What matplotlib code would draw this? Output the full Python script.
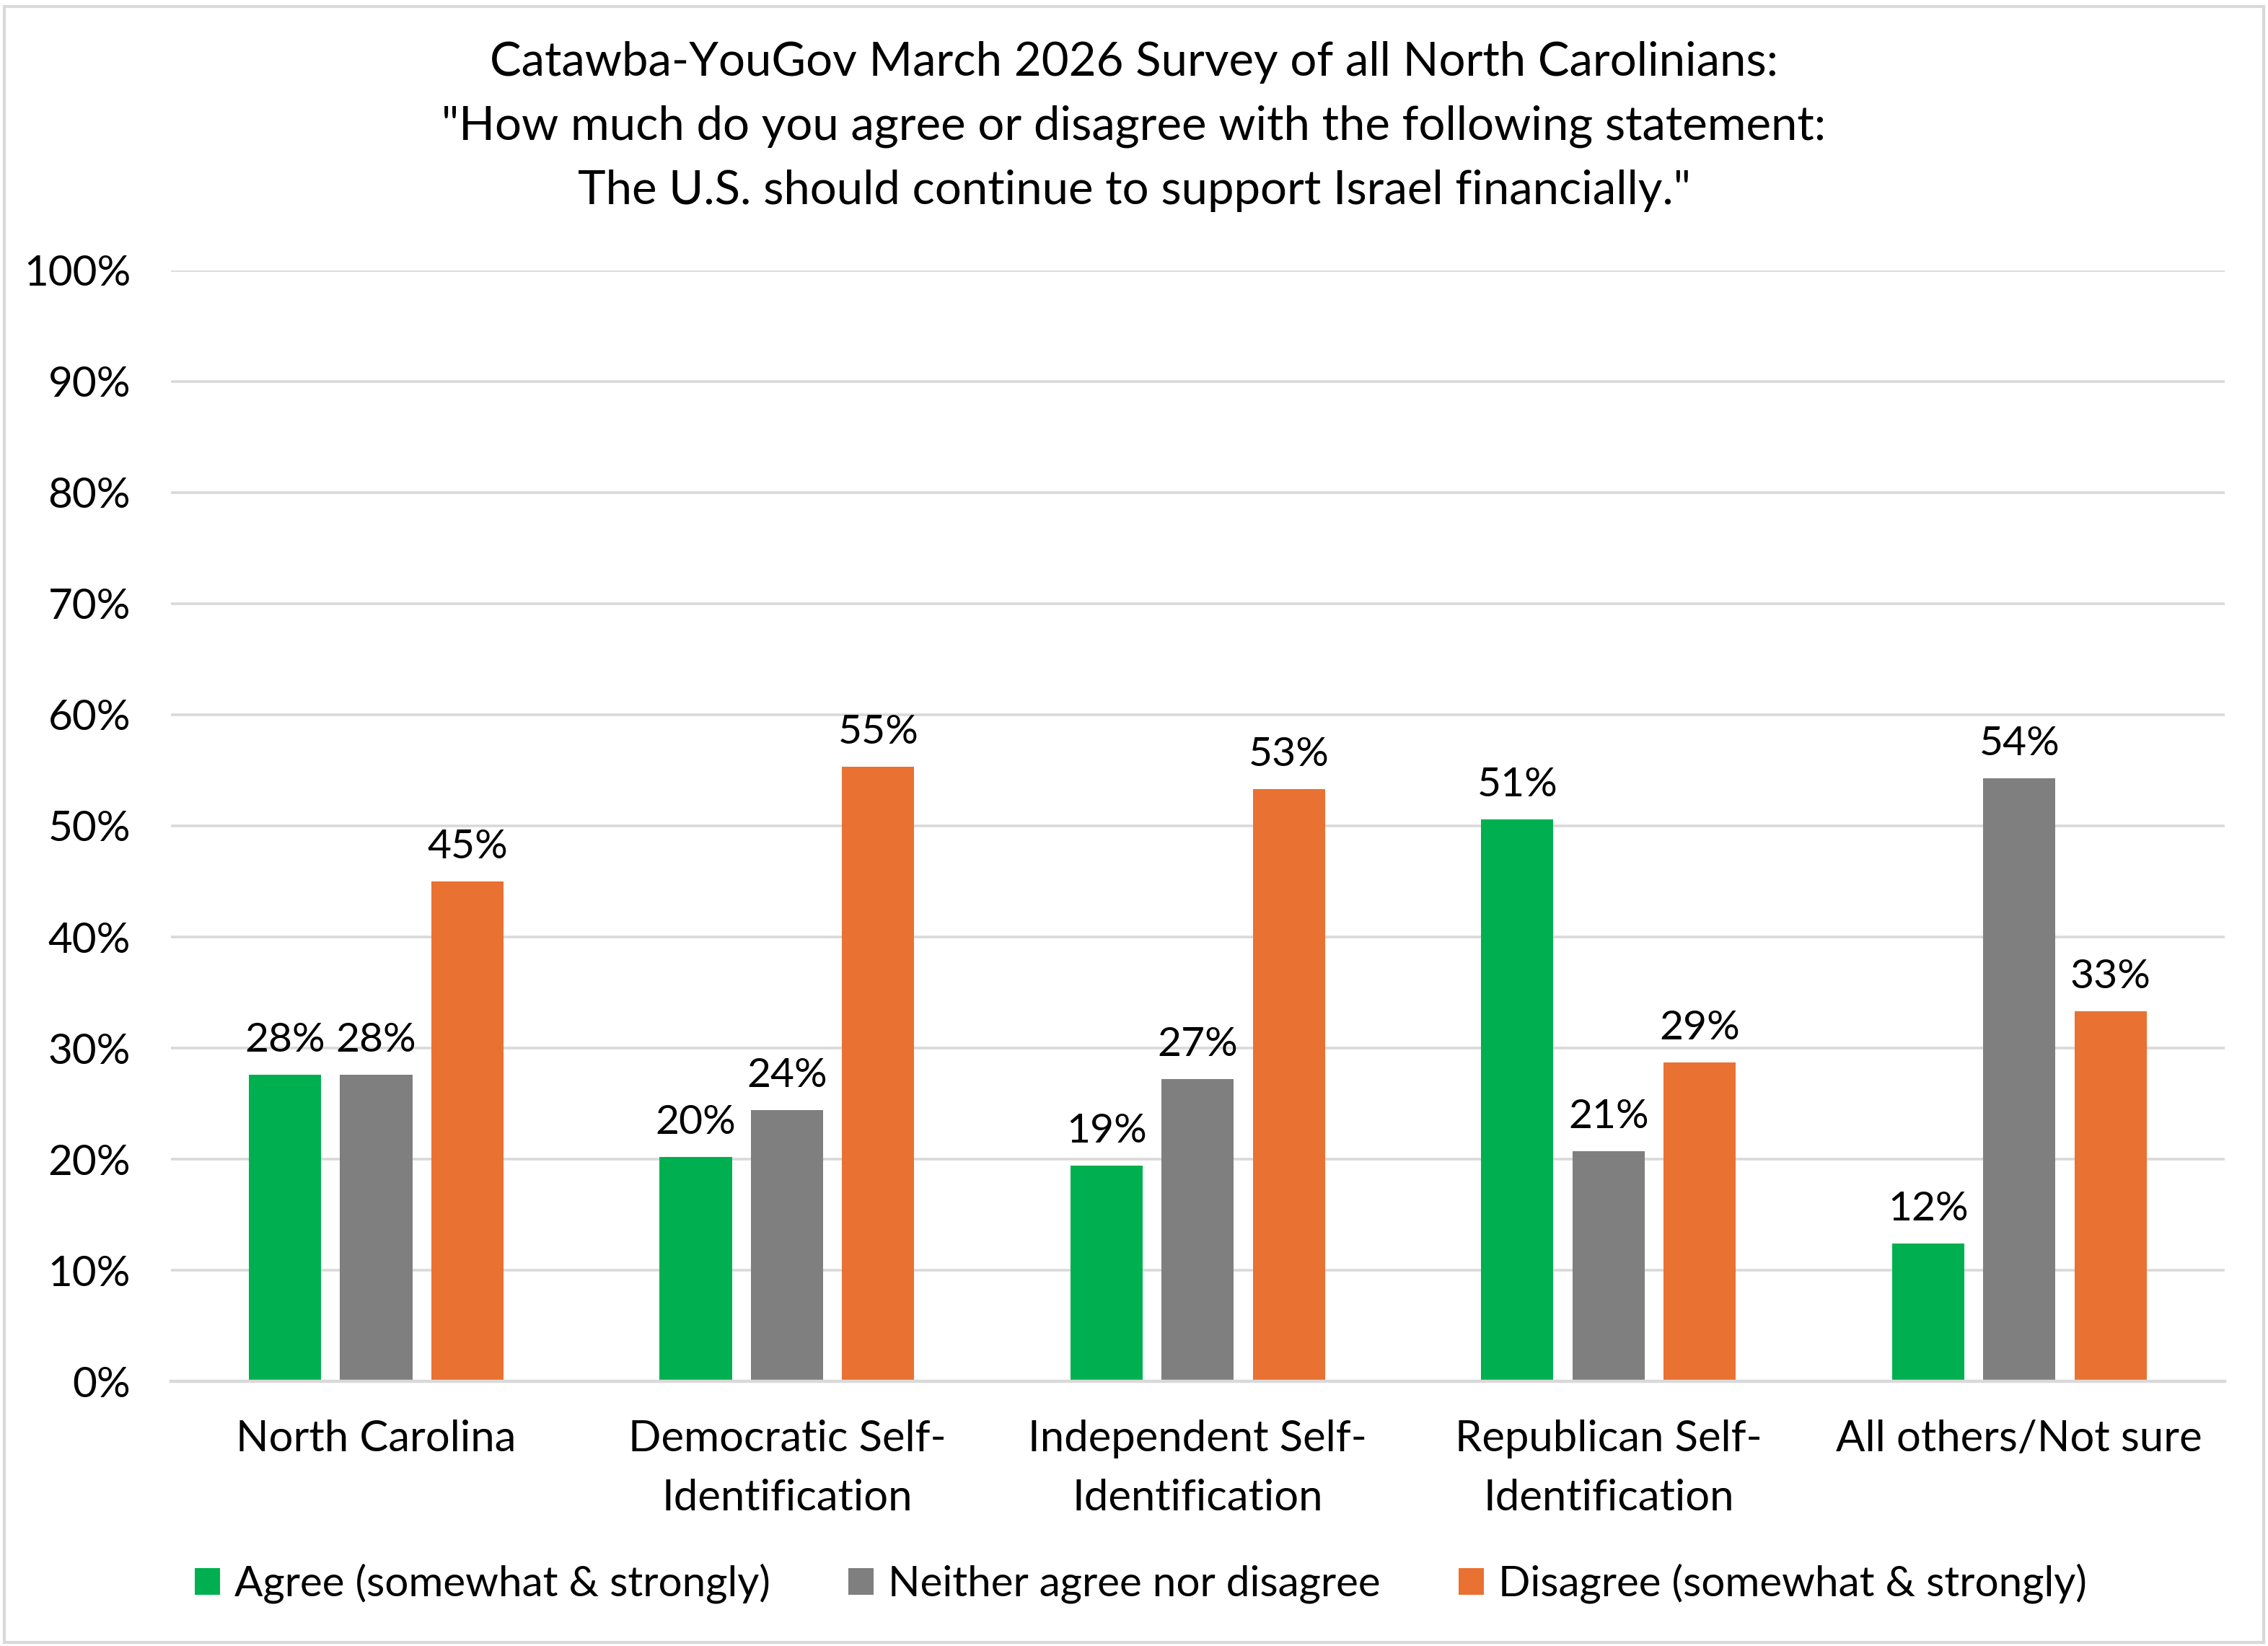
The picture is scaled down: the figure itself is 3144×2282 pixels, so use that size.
import numpy as np
import matplotlib
matplotlib.use('Agg')
import matplotlib.pyplot as plt
from matplotlib.patches import Rectangle

plt.rcParams['font.family'] = ['Lato', 'DejaVu Sans']

GREEN, GRAY, ORANGE = '#00B050', '#7F7F7F', '#E97132'
GRID = '#D9D9D9'

categories = ['North Carolina', 'Democratic Self-\nIdentification', 'Independent Self-\nIdentification',
              'Republican Self-\nIdentification', 'All others/Not sure']
agree = [27.6, 20.2, 19.4, 50.6, 12.4]
neither = [27.6, 24.4, 27.2, 20.7, 54.3]
disagree = [45.0, 55.3, 53.3, 28.7, 33.3]
series_names = ['Agree (somewhat & strongly)', 'Neither agree nor disagree', 'Disagree (somewhat & strongly)']
title_lines = ['Catawba-YouGov March 2026 Survey of all North Carolinians:',
               '"How much do you agree or disagree with the following statement:',
               'The U.S. should continue to support Israel financially."']

fig = plt.figure(figsize=(15.72, 11.41), dpi=200)
ax = fig.add_axes([0.0753, 0.1608, 0.9056, 0.6749])

x = np.arange(len(categories))
w, step = 0.176, 0.222
for vals, off, col, name in [(agree, -step, GREEN, series_names[0]),
                             (neither, 0, GRAY, series_names[1]),
                             (disagree, step, ORANGE, series_names[2])]:
    bars = ax.bar(x + off, vals, w, color=col, label=name, zorder=3)
    for b, v in zip(bars, vals):
        ax.annotate(f'{v:.0f}%', (b.get_x() + b.get_width() / 2, v), xytext=(0, 8),
                    textcoords='offset points', ha='center', va='bottom', fontsize=20.5)

ax.set_xlim(-0.5, 4.5)
ax.set_ylim(0, 100)
ax.set_yticks(np.arange(0, 101, 10))
ax.set_yticklabels([f'{t}%' for t in range(0, 101, 10)], fontsize=21)
ax.set_xticks(x)
ax.set_xticklabels(categories, fontsize=21.5, linespacing=1.65)
ax.tick_params(axis='both', length=0)
ax.tick_params(axis='x', pad=19)
ax.tick_params(axis='y', pad=20)
ax.grid(axis='y', color=GRID, lw=1.3, zorder=0)
for s in ['top', 'right', 'left']:
    ax.spines[s].set_visible(False)
ax.spines['bottom'].set_color(GRID)
ax.spines['bottom'].set_linewidth(1.6)
ax.spines['bottom'].set_zorder(4)

fig.legend(loc='center', bbox_to_anchor=(0.503, 0.038), ncol=3, frameon=False, fontsize=21,
           handlelength=0.6, handleheight=0.6, handletextpad=0.35, columnspacing=1.85)

for yy, line in zip([0.962, 0.923, 0.884], title_lines):
    fig.text(0.5, yy, line, ha='center', va='center', fontsize=23.5)

fig.patches.append(Rectangle((0.002, 0.002), 0.996, 0.994, transform=fig.transFigure,
                             fill=False, edgecolor=GRID, lw=1.5))

fig.savefig('out.png', dpi=200)
